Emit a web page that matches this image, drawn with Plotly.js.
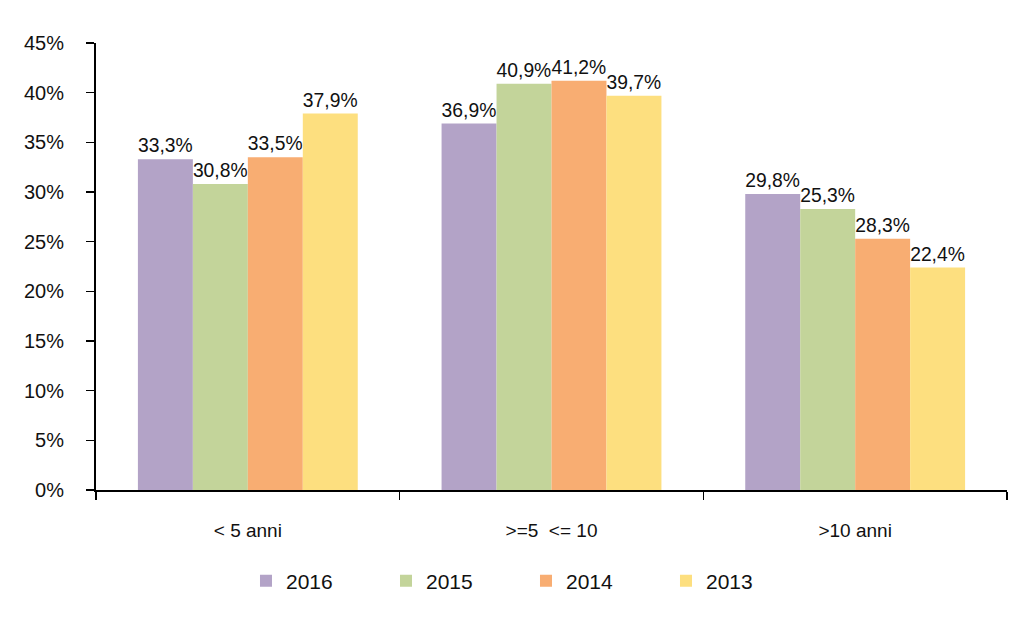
<!DOCTYPE html>
<html>
<head>
<meta charset="utf-8">
<script src="https://cdn.plot.ly/plotly-3.0.1.min.js"></script>
<style>html,body{margin:0;padding:0;background:#fff;}#chart{width:1024px;height:630px;}</style>
</head>
<body>
<div id="chart"></div>
<script>
const categories = ['< 5 anni', '>=5  <= 10', '>10 anni'];
const seriesNames = ['2016', '2015', '2014', '2013'];
const v2016 = [33.3, 36.9, 29.8];
const v2015 = [30.8, 40.9, 28.3];
const v2014 = [33.5, 41.2, 25.3];
const v2013 = [37.9, 39.7, 22.4];
const t2016 = ['33,3%', '36,9%', '29,8%'];
const t2015 = ['30,8%', '40,9%', '25,3%'];
const t2014 = ['33,5%', '41,2%', '28,3%'];
const t2013 = ['37,9%', '39,7%', '22,4%'];
const colors = ['#B3A3C7', '#C3D49A', '#F8AD72', '#FDDF7F'];
const yTickVals = [0, 5, 10, 15, 20, 25, 30, 35, 40, 45];
const yTickText = ['0%', '5%', '10%', '15%', '20%', '25%', '30%', '35%', '40%', '45%'];

const FONT = '"Liberation Sans", Arial, sans-serif';
const vals = [v2016, v2015, v2014, v2013];
const texts = [t2016, t2015, t2014, t2013];

const data = seriesNames.map((n, i) => ({
  type: 'bar',
  name: n,
  x: categories,
  y: vals[i],
  text: texts[i],
  textposition: 'outside',
  cliponaxis: false,
  textfont: {family: FONT, size: 20, color: '#111'},
  marker: {color: colors[i]},
  hoverinfo: 'none'
}));

const layout = {
  width: 1024, height: 630,
  margin: {l: 96, r: 17, t: 43, b: 140},
  paper_bgcolor: '#fff', plot_bgcolor: '#fff',
  barmode: 'group',
  bargap: 0.276,
  bargroupgap: 0,
  font: {family: FONT, size: 19, color: '#111'},
  xaxis: {
    type: 'category',
    showline: true, linecolor: '#000', linewidth: 2,
    ticks: 'outside', tickson: 'boundaries', ticklen: 8, tickwidth: 1.5, tickcolor: '#000',
    ticklabelstandoff: 22,
    showgrid: false, zeroline: false,
    tickfont: {family: FONT, size: 19, color: '#111'}
  },
  yaxis: {
    range: [0, 45],
    tickvals: yTickVals, ticktext: yTickText,
    showline: true, linecolor: '#000', linewidth: 2,
    ticks: 'outside', ticklen: 8, tickwidth: 1.5, tickcolor: '#000',
    ticklabelstandoff: 18,
    showgrid: false, zeroline: false,
    tickfont: {family: FONT, size: 20, color: '#111'}
  },
  showlegend: true,
  legend: {
    orientation: 'h', x: 0.472, xanchor: 'center', y: -0.204, yanchor: 'middle',
    font: {family: FONT, size: 21, color: '#111'},
    entrywidth: 95, entrywidthmode: 'pixels',
    traceorder: 'normal'
  }
};

Plotly.newPlot('chart', data, layout, {displayModeBar: false, staticPlot: true});
</script>
</body>
</html>
